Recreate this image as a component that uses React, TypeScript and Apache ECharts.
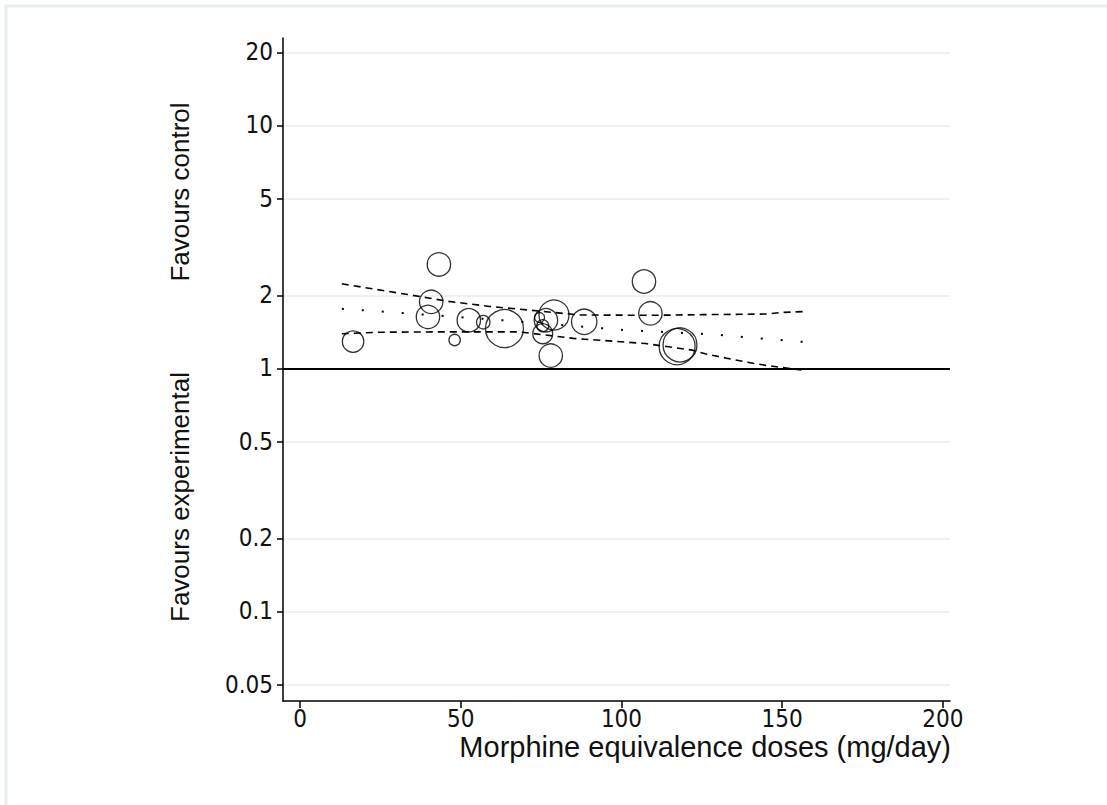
import React, { useEffect, useRef } from "react";
import * as echarts from "echarts";

// Axis ticks
const doseTicks = [0, 50, 100, 150, 200];
const ratioTicks = [0.05, 0.1, 0.2, 0.5, 1, 2, 5, 10, 20];

// Individual studies: dose (mg/day), ratio, study weight
const studyDose = [16.5, 39.8, 40.8, 43.2, 48.1, 52.5, 57, 63.6, 74.5, 75.5, 75.5, 76.5, 79, 78, 88.4, 107, 109, 117.3, 118.2];
const studyRatio = [1.29, 1.63, 1.88, 2.68, 1.31, 1.58, 1.55, 1.46, 1.62, 1.5, 1.39, 1.58, 1.66, 1.13, 1.556, 2.28, 1.686, 1.23, 1.25];
const studyWeight = [12.7, 15.2, 15.2, 15.2, 3.6, 15.2, 5, 40, 2.8, 4, 11, 15.2, 25, 15.2, 17.9, 15.2, 15.2, 36, 32];

// Meta-regression fit and confidence limits
const fitDose = [13, 29.5, 60, 100.8, 128.7, 156.6];
const fitRatio = [1.76, 1.7, 1.59, 1.44, 1.38, 1.286];
const upperDose = [13, 33, 46, 59, 75, 87, 110, 125, 145, 150, 157];
const upperRatio = [2.23, 2.02, 1.89, 1.8, 1.72, 1.66, 1.655, 1.665, 1.675, 1.7, 1.715];
const lowerDose = [13, 25, 45, 68, 85, 92, 107.5, 122, 126, 133, 141, 145, 156];
const lowerRatio = [1.39, 1.41, 1.415, 1.415, 1.33, 1.31, 1.266, 1.19, 1.15, 1.1, 1.05, 1.03, 0.985];

const FONT = "'Liberation Sans', Arial, sans-serif";
const NARROW = "'Liberation Sans Narrow', 'Arial Narrow', 'DejaVu Sans Condensed', sans-serif";
const log = (v: number) => Math.log10(v);

export default function App() {
  const ref = useRef<HTMLDivElement>(null);
  useEffect(() => {
    document.body.style.margin = "0";
    const chart = echarts.init(ref.current!, null, { renderer: "svg" });
    const pairs = (xs: number[], ys: number[]) => xs.map((x, i) => [x, log(ys[i])]);
    const option: any = {
      animation: false,
      backgroundColor: "#ffffff",
      grid: { left: 283, right: 157, top: 38, bottom: 104, containLabel: false },
      xAxis: {
        type: "value",
        min: -5.3,
        max: 202.2,
        axisLine: { show: true, onZero: false, lineStyle: { color: "#000", width: 1.5 } },
        axisTick: { show: true, length: 7, customValues: doseTicks, lineStyle: { color: "#000", width: 1.5 } },
        axisLabel: { customValues: doseTicks, margin: 6, color: "#111", fontSize: 24, lineHeight: 24, fontFamily: NARROW },
        splitLine: { show: false },
      },
      yAxis: {
        type: "value",
        min: -1.3685,
        max: 1.36,
        axisLine: { show: true, onZero: false, lineStyle: { color: "#000", width: 1.5 } },
        axisTick: { show: true, length: 6, customValues: ratioTicks.map(log), lineStyle: { color: "#000", width: 1.5 } },
        axisLabel: {
          customValues: ratioTicks.map(log),
          margin: 10,
          color: "#111",
          fontSize: 24,
          fontFamily: NARROW,
          formatter: (val: number) => String(parseFloat(Math.pow(10, val).toPrecision(2))),
        },
        splitLine: { show: true, lineStyle: { color: "#e4edf0", width: 1.5 } },
      },
      graphic: [
        { type: "rect", shape: { x: 6, y: 6, width: 1110, height: 810 }, style: { fill: "none", stroke: "#e8eff1", lineWidth: 3 }, silent: true },
        { type: "text", x: 180, y: 192, rotation: Math.PI / 2, style: { text: "Favours control", fill: "#111", font: `26px ${FONT}`, textAlign: "center", textVerticalAlign: "middle" } },
        { type: "text", x: 180, y: 497, rotation: Math.PI / 2, style: { text: "Favours experimental", fill: "#111", font: `26px ${FONT}`, textAlign: "center", textVerticalAlign: "middle" } },
        { type: "text", x: 951, y: 734, style: { text: "Morphine equivalence doses (mg/day)", fill: "#111", font: `29px ${FONT}`, lineHeight: 26, textAlign: "right", textVerticalAlign: "top" } },
      ],
      series: [
        {
          type: "line",
          data: pairs(upperDose, upperRatio),
          showSymbol: false,
          lineStyle: { color: "#000", width: 1.6, type: [7, 5] },
          silent: true,
          z: 3,
        },
        {
          type: "line",
          data: pairs(lowerDose, lowerRatio),
          showSymbol: false,
          lineStyle: { color: "#000", width: 1.6, type: [7, 5] },
          silent: true,
          z: 3,
        },
        {
          type: "line",
          data: pairs(fitDose, fitRatio),
          showSymbol: false,
          lineStyle: { color: "#000", width: 2, type: [2, 18] },
          silent: true,
          z: 3,
          markLine: {
            silent: true,
            symbol: "none",
            label: { show: false },
            lineStyle: { color: "#000", width: 2, type: "solid" },
            data: [{ yAxis: log(1) }],
          },
        },
        {
          type: "scatter",
          data: studyDose.map((x, i) => [x, log(studyRatio[i]), studyWeight[i]]),
          symbol: "circle",
          symbolSize: (d: number[]) => 6 * Math.sqrt(d[2]),
          itemStyle: { color: "rgba(0,0,0,0)", borderColor: "#000", borderWidth: 1.3 },
          silent: true,
          z: 4,
        },
      ],
    };
    chart.setOption(option);
    return () => chart.dispose();
  }, []);
  return <div ref={ref} style={{ width: 1107, height: 805, background: "#fff" }} />;
}
